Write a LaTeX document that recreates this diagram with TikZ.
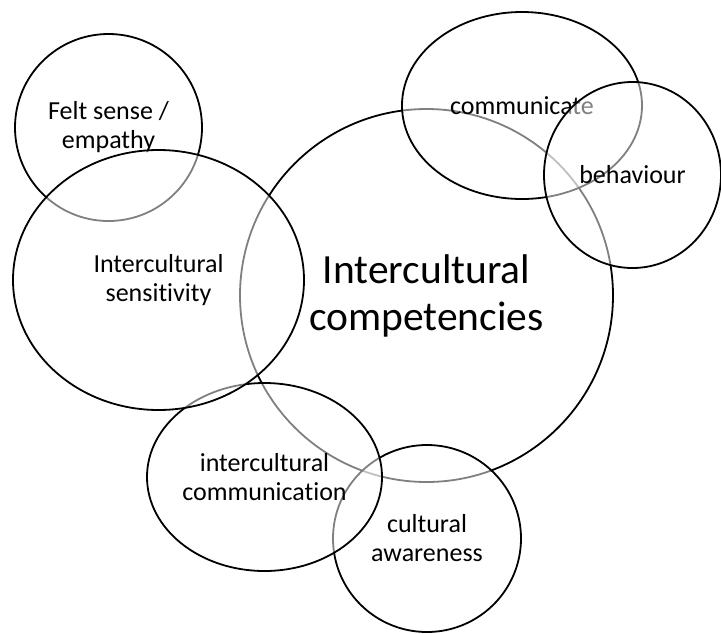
\documentclass[tikz,border=0pt]{standalone}
\usepackage{fontspec}
\setmainfont{Carlito}[Ligatures=NoCommon]
\usetikzlibrary{shapes.geometric}

\tikzset{
  bubble/.style={shape=ellipse, draw=black, line width=1.8pt, fill=white,
    fill opacity=0.5, text opacity=1, inner sep=0pt, align=center,
    font=\fontsize{26}{29}\selectfont},
  bigbubble/.style={bubble, font=\fontsize{41.5}{47}\selectfont}
}

\begin{document}
\begin{tikzpicture}[x=1pt, y=-1pt]
        \useasboundingbox (0,0) rectangle (721,633);
        % Centre circle first, the others sit on top of it
        \node[bigbubble, minimum width=373pt, minimum height=373pt] (IC) at (426.5,295.5) {Intercultural\\competencies};
        % Bubbles round it
        \node[bubble, minimum width=188pt, minimum height=187pt] (CA) at (427,538.5) {cultural\\awareness};
        \node[bubble, minimum width=235pt, minimum height=188pt] (ICom) at (264.5,477) {intercultural\\communication};
        \node[bubble, minimum width=187pt, minimum height=187pt] (FS) at (108.5,127.5) {Felt sense /\\empathy};
        \node[bubble, minimum width=291pt, minimum height=260pt] (IS) at (158.5,280) {Intercultural\\sensitivity};
        \node[bubble, minimum width=240pt, minimum height=187pt] (Com) at (522,105.5) {communicate};
        \node[bubble, minimum width=177pt, minimum height=186pt] (Beh) at (632.5,175) {behaviour};
    \end{tikzpicture}
\end{document}
